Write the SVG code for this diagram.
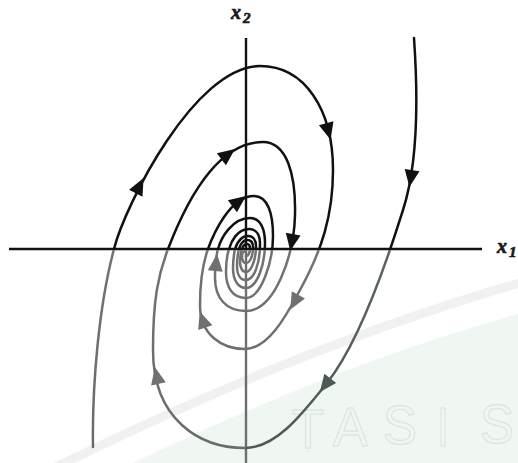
<svg xmlns="http://www.w3.org/2000/svg" width="518" height="463" viewBox="0 0 518 463">
  <style>
    .traj { fill: none; stroke-width: 2.5; stroke-linecap: round; stroke-linejoin: round; }
    .lbl { font-family: "Liberation Serif", "DejaVu Serif", serif; font-weight: bold; font-style: italic; fill: #1a1a1a; stroke: #1a1a1a; stroke-width: 0.7; }
    .wm { font-family: "Liberation Sans", Arial, sans-serif; font-size: 56px; fill: none; stroke: #dfe6e1; stroke-width: 1.4; }
    .ah-k { fill: #111; }
    .ah-g { fill: #707070; }
    .ah-s { fill: #4e5954; }
  </style>
  <defs>
    <linearGradient id="gA" gradientUnits="userSpaceOnUse" x1="0" y1="0" x2="0" y2="463">
      <stop offset="0" stop-color="#111"/>
      <stop offset="0.5389" stop-color="#111"/>
      <stop offset="0.5389" stop-color="#727272"/>
      <stop offset="1" stop-color="#6a6a6a"/>
    </linearGradient>
    <linearGradient id="gB" gradientUnits="userSpaceOnUse" x1="0" y1="0" x2="0" y2="463">
      <stop offset="0" stop-color="#111"/>
      <stop offset="0.5389" stop-color="#111"/>
      <stop offset="0.5389" stop-color="#5a6460"/>
      <stop offset="1" stop-color="#4e5954"/>
    </linearGradient>
    <path id="ah" d="M10,0 L-7,-7.5 L-7,7.5 Z"/>
  </defs>

  <rect width="518" height="463" fill="#fff"/>

  <g id="watermark">
    <path d="M30,515 Q300,372 540,308 L540,470 L30,470 Z" fill="#f0f7f2"/>
    <path d="M40,475 Q300,345 530,280" fill="none" stroke="#f1f1f1" stroke-width="9"/>
    <text class="wm" x="292" y="448" textLength="32" lengthAdjust="spacingAndGlyphs">T</text>
    <text class="wm" x="333" y="446" textLength="35" lengthAdjust="spacingAndGlyphs">A</text>
    <text class="wm" x="383" y="444" textLength="34" lengthAdjust="spacingAndGlyphs">S</text>
    <text class="wm" x="437" y="446" textLength="12" lengthAdjust="spacingAndGlyphs">I</text>
    <text class="wm" x="480" y="443" textLength="34" lengthAdjust="spacingAndGlyphs">S</text>
  </g>

  <g id="axes">
    <line x1="9" y1="249" x2="482" y2="249" stroke="#111" stroke-width="2.6"/>
    <line x1="246" y1="38" x2="246" y2="250" stroke="#111" stroke-width="2.4"/>
    <line x1="246" y1="250" x2="246" y2="463" stroke="#6e6e6e" stroke-width="2.4"/>
  </g>

  <g id="label-x2">
    <text class="lbl" x="231" y="19" font-size="20">x</text>
    <text class="lbl" x="243" y="23" font-size="15">2</text>
  </g>
  <g id="label-x1">
    <text class="lbl" x="497" y="253" font-size="20">x</text>
    <text class="lbl" x="509" y="257" font-size="15">1</text>
  </g>

  <g id="connectors">
    <path id="trajA" class="traj" stroke="url(#gA)" d="M93,447 C92,385 99,305 114,249 C125,205 195,66 260,66 C305,66 333,110 333,170 C333,215 322,250 300,290 C289,310 270,349 245,349 C222,349 200,335 200,305 C200,282 203,263 208,249 C213,235 230,196 254,196 C268,196 273,214 273,236 C273,262 261,298 246,298 C233,298 226,288 226,272 C226,262 227,255 229,249 C231,242 237,229 249,229 C257,229 260,236 260,244 C260,264 254,280 246,280 C240,280 237,274 237,266 C237,259 238,253 239,249 C240,245 243,240 247,240 C251,240 253,243 253,247 C253,256 250,263 246,263 C243,263 242,259 242,256 C242,253 244,251 246,251"/>
    <path id="trajB1" class="traj" stroke="url(#gB)" d="M414,38 C419,110 416,170 403,210 C395,235 365,335 327,383 C300,417 275,448 245,448"/>
    <path id="trajB2" class="traj" stroke="url(#gA)" d="M245,448 C200,448 153,420 153,350 C153,300 158,275 168,249 C178,223 210,142 263,142 C287,142 296,175 295,215 C294,255 275,311 246,311 C226,311 215,298 215,278 C215,265 216,256 218,249 C221,238 232,218 250,218 C261,218 265,230 265,243 C265,265 257,288 246,288 C238,288 233,280 233,268 C233,260 234,254 235,249 C237,243 241,236 248,236 C253,236 256,240 256,246 C256,260 251,272 246,272 C242,272 240,267 240,262 C240,256 241,252 242,249 C243,246 245,244 247,244 C249,244 250,246 250,249 C250,253 248,256 246,256"/>

    <g id="arrowheads">
      <use href="#ah" class="ah-k" transform="translate(139,187) rotate(-63)"/>
      <use href="#ah" class="ah-k" transform="translate(328,130) rotate(75)"/>
      <use href="#ah" class="ah-g" transform="translate(295,301) rotate(119)"/>
      <use href="#ah" class="ah-g" transform="translate(203,321) rotate(-109)"/>
      <use href="#ah" class="ah-k" transform="translate(238,202) rotate(-37)"/>
      <use href="#ah" class="ah-k" transform="translate(411,177) rotate(99)"/>
      <use href="#ah" class="ah-s" transform="translate(326,384) rotate(128)"/>
      <use href="#ah" class="ah-g" transform="translate(157,377) rotate(-102)"/>
      <use href="#ah" class="ah-k" transform="translate(227,155) rotate(-37)"/>
      <use href="#ah" class="ah-k" transform="translate(292,241) rotate(100)"/>
      <use href="#ah" class="ah-g" transform="translate(216,264) rotate(-84)"/>
    </g>
  </g>
</svg>
